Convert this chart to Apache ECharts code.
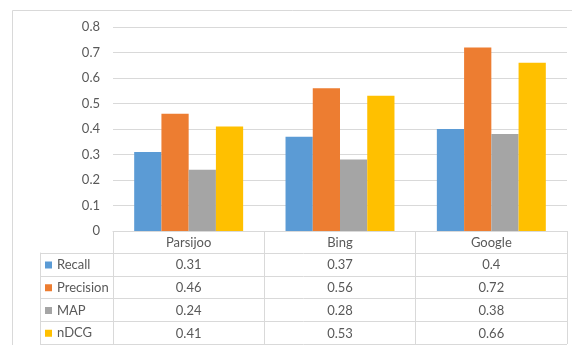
<!DOCTYPE html>
<html>
<head>
<meta charset="utf-8">
<script src="https://cdn.jsdelivr.net/npm/echarts@6/dist/echarts.min.js"></script>
<style>
html,body{margin:0;padding:0;background:#fff;}
#chart{width:572px;height:345px;}
</style>
</head>
<body>
<div id="chart"></div>
<script>
var categories = ['Parsijoo', 'Bing', 'Google'];
var recall = [0.31, 0.37, 0.4];
var precision = [0.46, 0.56, 0.72];
var map = [0.24, 0.28, 0.38];
var ndcg = [0.41, 0.53, 0.66];
var seriesNames = ['Recall', 'Precision', 'MAP', 'nDCG'];
var yTicks = { min: 0, max: 0.8, interval: 0.1 };

var colors = ['#5B9BD5', '#ED7D31', '#A5A5A5', '#FFC000'];
var seriesData = [recall, precision, map, ndcg];
var FONT = 'Lato';
var TXT = '#595959';
var LINE = '#d9d9d9';
var ROW = 22.75;

var chart = echarts.init(document.getElementById('chart'), null, { renderer: 'canvas' });
var option = {
  animation: false,
  backgroundColor: '#fff',
  color: colors,
  textStyle: { fontFamily: FONT, color: TXT },
  graphic: [{
    type: 'rect',
    shape: { x: 12.5, y: 10.5, width: 600, height: 400 },
    style: { fill: 'none', stroke: LINE, lineWidth: 1 },
    silent: true, z: -10
  }],
  legend: {
    orient: 'vertical',
    left: 45,
    top: 258,
    padding: 0,
    itemGap: ROW - 14,
    itemWidth: 7,
    itemHeight: 7,
    icon: 'rect',
    selectedMode: false,
    data: seriesNames,
    textStyle: { color: TXT, fontSize: 13, fontFamily: FONT, lineHeight: 14 }
  },
  grid: [
    { left: 113, right: 5, top: 27, bottom: 114 },
    { left: 40, right: 5, top: 253, height: 91 }
  ],
  xAxis: [
    {
      type: 'category',
      gridIndex: 0,
      data: categories,
      axisLine: { show: true, lineStyle: { color: LINE, width: 1 } },
      axisTick: { show: true, interval: 0, length: 113, lineStyle: { color: LINE } },
      axisLabel: {
        interval: 0,
        margin: 0,
        verticalAlign: 'top',
        lineHeight: ROW,
        color: TXT,
        fontSize: 13,
        fontFamily: FONT,
        formatter: function (v, i) {
          var lines = [v];
          for (var s = 0; s < seriesData.length; s++) lines.push(String(seriesData[s][i]));
          return lines.join('\n');
        }
      }
    },
    { type: 'value', gridIndex: 1, show: false, min: 0, max: 1 }
  ],
  yAxis: [
    {
      type: 'value',
      gridIndex: 0,
      min: yTicks.min, max: yTicks.max, interval: yTicks.interval,
      axisLine: { show: false },
      axisTick: { show: false },
      axisLabel: { margin: 13, color: TXT, fontSize: 13, fontFamily: FONT, formatter: function (v) { return String(Math.round(v * 10) / 10); } },
      splitLine: { show: true, lineStyle: { color: LINE, width: 1 } }
    },
    {
      type: 'value',
      gridIndex: 1,
      min: 0, max: 4, interval: 1,
      inverse: true,
      axisLine: { show: true, lineStyle: { color: LINE } },
      axisTick: { show: false },
      axisLabel: { show: false },
      splitLine: { show: true, lineStyle: { color: LINE } }
    }
  ],
  series: seriesNames.map(function (n, k) {
    return {
      name: n,
      type: 'bar',
      xAxisIndex: 0,
      yAxisIndex: 0,
      data: seriesData[k],
      barGap: '0%',
      barCategoryGap: '28%',
      itemStyle: { color: colors[k] }
    };
  })
};
chart.setOption(option);
</script>
</body>
</html>
